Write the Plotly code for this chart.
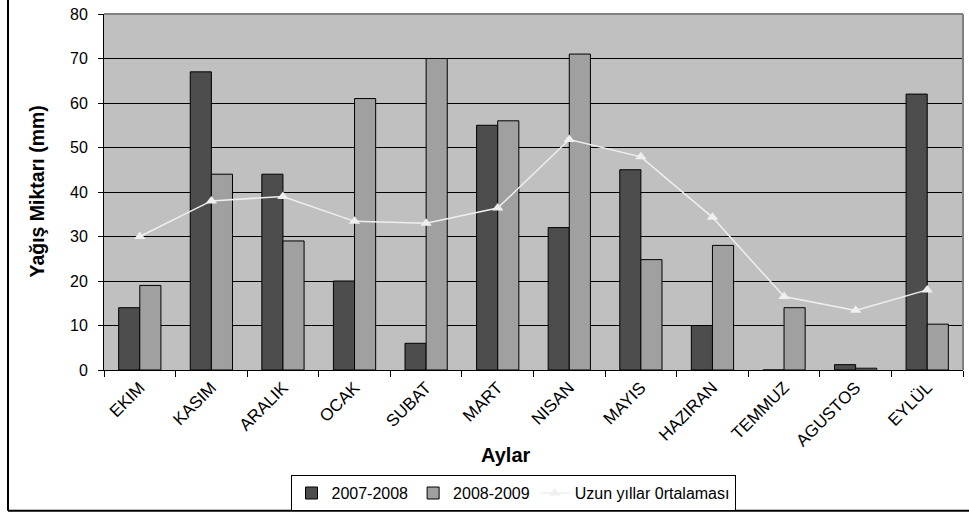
import plotly.graph_objects as go

# Monthly precipitation (mm)
months = ["EKIM", "KASIM", "ARALIK", "OCAK", "SUBAT", "MART",
          "NISAN", "MAYIS", "HAZIRAN", "TEMMUZ", "AGUSTOS", "EYLÜL"]
season_2007_2008 = [14, 67, 44, 20, 6, 55, 32, 45, 10, 0, 1.2, 62]
season_2008_2009 = [19, 44, 29, 61, 70, 56, 71, 24.8, 28, 14, 0.4, 10.3]
long_term_mean = [30, 38, 39, 33.4, 33, 36.4, 51.8, 47.9, 34.3, 16.5, 13.4, 18]
y_ticks = [0, 10, 20, 30, 40, 50, 60, 70, 80]

FONT = "Liberation Sans, Arial, sans-serif"
W, H = 969, 517
L, R, T, B = 104, 6, 14, 144
PW, PH = W - L - R, H - T - B


def px_x(x):
    return (x - L) / PW


def px_y(y):
    return (H - B - y) / PH


fig = go.Figure()
fig.add_trace(go.Bar(
    x=months, y=season_2007_2008, name="2007-2008",
    marker=dict(color="#4d4d4d", line=dict(color="#000000", width=1)),
))
fig.add_trace(go.Bar(
    x=months, y=season_2008_2009, name="2008-2009",
    marker=dict(color="#a0a0a0", line=dict(color="#000000", width=1)),
))
fig.add_trace(go.Scatter(
    x=months, y=long_term_mean, name="Uzun yıllar 0rtalaması",
    mode="lines+markers",
    line=dict(color="#efefef", width=1.5),
    marker=dict(symbol="triangle-up", size=10, color="#efefef"),
))

fig.update_layout(
    width=W, height=H,
    margin=dict(l=L, r=R, t=T, b=B),
    paper_bgcolor="#ffffff",
    plot_bgcolor="#c0c0c0",
    barmode="group",
    bargap=0.41,
    bargroupgap=0,
    font=dict(family=FONT, size=16, color="#000000"),
    showlegend=True,
    legend=dict(
        orientation="h",
        x=px_x(513), xanchor="center",
        y=px_y(479), yanchor="top",
        bordercolor="#000000", borderwidth=1,
        font=dict(family=FONT, size=16, color="#000000"),
        itemwidth=30,
        tracegroupgap=0,
    ),
)

fig.update_xaxes(
    type="category",
    range=[-0.5, len(months) - 0.5],
    showline=True, linecolor="#000000", linewidth=1,
    ticks="outside", tickson="boundaries", ticklen=6,
    tickcolor="#000000", tickwidth=1,
    tickangle=-45,
    tickfont=dict(family=FONT, size=17, color="#000000"),
    showgrid=False,
)
fig.update_yaxes(
    range=[0, 80],
    tickvals=y_ticks,
    showline=True, linecolor="#000000", linewidth=1,
    ticks="outside", ticklen=5, tickcolor="#000000",
    ticklabelstandoff=7,
    tickfont=dict(family=FONT, size=16, color="#000000"),
    showgrid=True, gridcolor="#000000", gridwidth=1,
    zeroline=False,
)

# Axis titles
fig.add_annotation(
    text="<b>Yağış Miktarı (mm)</b>", xref="paper", yref="paper",
    x=px_x(37), y=px_y(193), xanchor="center", yanchor="middle",
    textangle=-90, showarrow=False,
    font=dict(family=FONT, size=19.5, color="#000000"),
)
fig.add_annotation(
    text="<b>Aylar</b>", xref="paper", yref="paper",
    x=px_x(506), y=px_y(459), xanchor="center", yanchor="middle",
    showarrow=False, font=dict(family=FONT, size=20, color="#000000"),
)

# Plot-area top and right border
fig.add_shape(type="line", xref="paper", yref="paper",
              x0=0, x1=1, y0=1, y1=1,
              line=dict(color="#808080", width=2), layer="above")
fig.add_shape(type="line", xref="paper", yref="paper",
              x0=1, x1=1, y0=0, y1=1,
              line=dict(color="#808080", width=2), layer="above")

# Outer chart frame (left and bottom edges)
fig.add_shape(type="line", xref="paper", yref="paper",
              x0=px_x(8), x1=px_x(8), y0=px_y(515), y1=px_y(-5),
              line=dict(color="#000000", width=2))
fig.add_shape(type="line", xref="paper", yref="paper",
              x0=px_x(8), x1=px_x(980), y0=px_y(515), y1=px_y(515),
              line=dict(color="#000000", width=2))

fig.write_html("out.html")
